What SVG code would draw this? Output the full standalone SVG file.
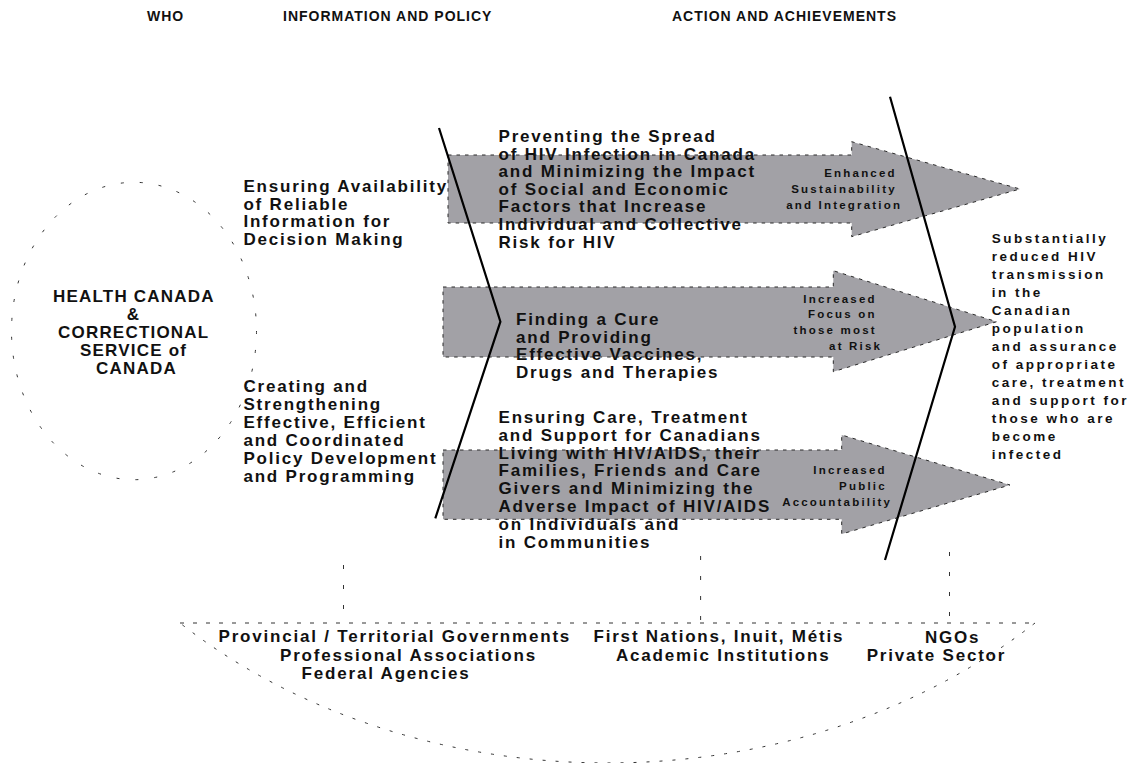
<svg xmlns="http://www.w3.org/2000/svg" width="1132" height="763" viewBox="0 0 1132 763">
<defs>
<style>
.t{font-family:"Liberation Sans",Arial,Helvetica,sans-serif;font-weight:bold;fill:#111}
.hd{font-size:14px;letter-spacing:1px}
.bd{font-size:17px;letter-spacing:1.8px}
.who{font-size:17px;letter-spacing:1.2px}
.rt{font-size:13.5px;letter-spacing:2.5px}
.sm{font-size:11.5px;letter-spacing:2.2px}
.arrow{fill:#a2a1a6;stroke:#2a2a2a;stroke-width:1;stroke-dasharray:3.5 5}
.slash{fill:none;stroke:#000;stroke-width:2.2;stroke-linejoin:miter}
.dash{fill:none;stroke:#333;stroke-width:1}
</style>
</defs>
<rect width="1132" height="763" fill="#fff"/>

<g id="headers">
<text class="t hd" x="147" y="21">WHO</text>
<text class="t hd" x="283" y="21">INFORMATION AND POLICY</text>
<text class="t hd" x="672" y="21">ACTION AND ACHIEVEMENTS</text>
</g>

<g id="arrows">
<path id="arrow1" class="arrow" d="M448,155 H851.7 V141.7 L1020,189 L851.7,236.7 V223 H448 Z"/>
<path id="arrow2" class="arrow" d="M443,287 H833.3 V270.7 L996.7,321.7 L833.3,371.7 V357 H443 Z"/>
<path id="arrow3" class="arrow" d="M443,450 H841.7 V435 L1010,485 L841.7,534 V519.3 H443 Z"/>
</g>

<g id="connectors">
<polyline class="slash" points="439,128 500.4,321.7 435.3,518.3"/>
<polyline class="slash" points="890,96.7 955,326.7 885,560"/>
<line class="dash" x1="343.5" y1="565" x2="343.5" y2="623" stroke-dasharray="4 16"/>
<line class="dash" x1="700.6" y1="556" x2="700.6" y2="623" stroke-dasharray="4 16"/>
<line class="dash" x1="949.5" y1="552" x2="949.5" y2="623" stroke-dasharray="4 16"/>
</g>

<g id="who-node">
<ellipse class="dash" cx="134" cy="331" rx="122.5" ry="148.7" stroke-dasharray="3 16"/>
<text class="t who" text-anchor="middle">
<tspan x="136.5" y="301.5">HEALTH CANADA</tspan>
<tspan x="136.5" y="319.5">&amp;</tspan>
<tspan x="136.5" y="337.5">CORRECTIONAL</tspan>
<tspan x="136.5" y="355.5">SERVICE of</tspan>
<tspan x="136.5" y="373.5">CANADA</tspan>
</text>
</g>

<g id="info-node">
<text class="t bd">
<tspan x="243.4" y="191.7">Ensuring Availability</tspan>
<tspan x="243.4" y="209.5">of Reliable</tspan>
<tspan x="243.4" y="227.3">Information for</tspan>
<tspan x="243.4" y="245">Decision Making</tspan>
</text>
</g>

<g id="policy-node">
<text class="t bd">
<tspan x="243.4" y="391.7">Creating and</tspan>
<tspan x="243.4" y="409.7">Strengthening</tspan>
<tspan x="243.4" y="427.7">Effective, Efficient</tspan>
<tspan x="243.4" y="445.6">and Coordinated</tspan>
<tspan x="243.4" y="463.5">Policy Development</tspan>
<tspan x="243.4" y="481.5">and Programming</tspan>
</text>
</g>

<g id="arrow1-text">
<text class="t bd">
<tspan x="498.5" y="142">Preventing the Spread</tspan>
<tspan x="498.5" y="159.6">of HIV Infection in Canada</tspan>
<tspan x="498.5" y="177.2">and Minimizing the Impact</tspan>
<tspan x="498.5" y="194.8">of Social and Economic</tspan>
<tspan x="498.5" y="212.4">Factors that Increase</tspan>
<tspan x="498.5" y="230">Individual and Collective</tspan>
<tspan x="498.5" y="247.6">Risk for HIV</tspan>
</text>
<text class="t sm" text-anchor="end">
<tspan x="902.2" y="177.3">Enhanced</tspan>
<tspan x="902.2" y="193.2">Sustainability</tspan>
<tspan x="902.2" y="209.1">and Integration</tspan>
</text>
</g>

<g id="arrow2-text">
<text class="t bd">
<tspan x="516" y="325">Finding a Cure</tspan>
<tspan x="516" y="342.5">and Providing</tspan>
<tspan x="516" y="360">Effective Vaccines,</tspan>
<tspan x="516" y="377.5">Drugs and Therapies</tspan>
</text>
<text class="t sm" text-anchor="end">
<tspan x="882.2" y="302.7">Increased</tspan>
<tspan x="882.2" y="318.4">Focus on</tspan>
<tspan x="882.2" y="334.1">those most</tspan>
<tspan x="882.2" y="349.8">at Risk</tspan>
</text>
</g>

<g id="arrow3-text">
<text class="t bd">
<tspan x="498.5" y="422.7">Ensuring Care, Treatment</tspan>
<tspan x="498.5" y="440.6">and Support for Canadians</tspan>
<tspan x="498.5" y="458.5">Living with HIV/AIDS, their</tspan>
<tspan x="498.5" y="476.4">Families, Friends and Care</tspan>
<tspan x="498.5" y="494.3">Givers and Minimizing the</tspan>
<tspan x="498.5" y="512.2">Adverse Impact of HIV/AIDS</tspan>
<tspan x="498.5" y="530.1">on Individuals and</tspan>
<tspan x="498.5" y="548">in Communities</tspan>
</text>
<text class="t sm" text-anchor="end">
<tspan x="892.2" y="474">Increased</tspan>
<tspan x="892.2" y="490">Public</tspan>
<tspan x="892.2" y="506">Accountability</tspan>
</text>
</g>

<g id="outcome-node">
<text class="t rt">
<tspan x="991.7" y="242.5">Substantially</tspan>
<tspan x="991.7" y="260.5">reduced HIV</tspan>
<tspan x="991.7" y="278.5">transmission</tspan>
<tspan x="991.7" y="296.5">in the</tspan>
<tspan x="991.7" y="314.5">Canadian</tspan>
<tspan x="991.7" y="332.5">population</tspan>
<tspan x="991.7" y="350.5">and assurance</tspan>
<tspan x="991.7" y="368.5">of appropriate</tspan>
<tspan x="991.7" y="386.5">care, treatment</tspan>
<tspan x="991.7" y="404.5">and support for</tspan>
<tspan x="991.7" y="422.5">those who are</tspan>
<tspan x="991.7" y="440.5">become</tspan>
<tspan x="991.7" y="458.5">infected</tspan>
</text>
</g>

<g id="partners-node">
<path class="dash" d="M180,623 H1035" stroke-dasharray="4 9"/>
<path class="dash" d="M1035,623 A614,496 0 0,1 180,623" stroke-dasharray="3 10"/>
<text class="t bd">
<tspan x="218.5" y="642">Provincial / Territorial Governments</tspan>
<tspan x="280" y="660.5">Professional Associations</tspan>
<tspan x="301.6" y="679">Federal Agencies</tspan>
<tspan x="593.5" y="642">First Nations, Inuit, Métis</tspan>
<tspan x="616" y="660.5">Academic Institutions</tspan>
<tspan x="925" y="642.5">NGOs</tspan>
<tspan x="866.7" y="660.5">Private Sector</tspan>
</text>
</g>
</svg>
